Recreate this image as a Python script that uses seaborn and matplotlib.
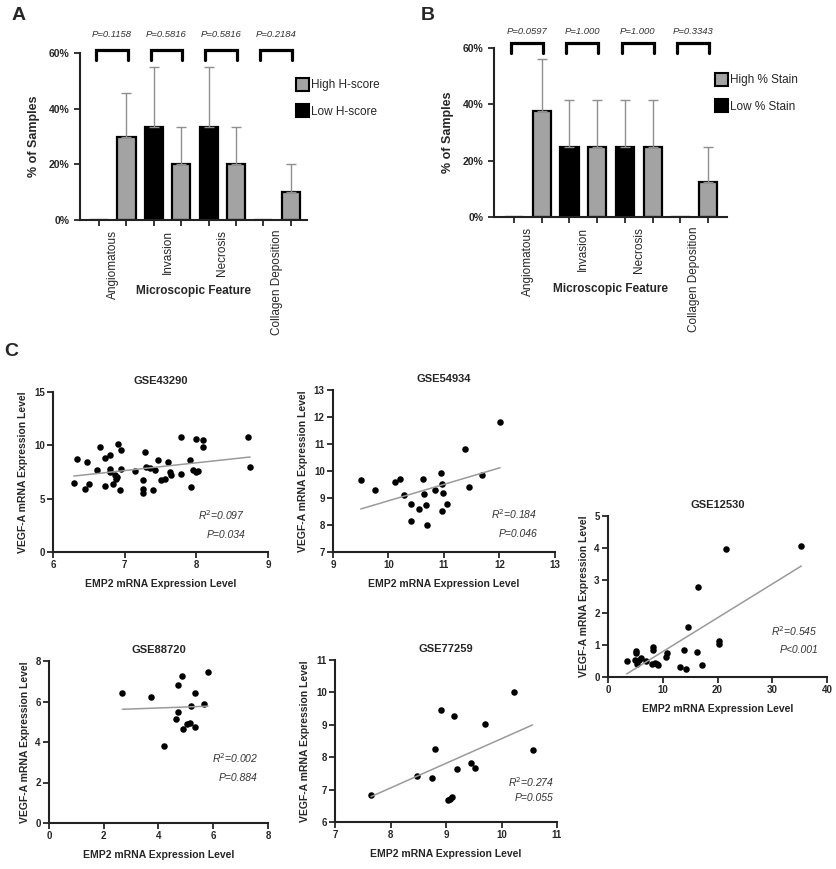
import numpy as np
import pandas as pd
import seaborn as sns
import matplotlib.pyplot as plt
from matplotlib.patches import Patch

sns.set_theme(style="ticks")
plt.rcParams["font.family"] = ["Liberation Sans", "DejaVu Sans"]

# ---- bar panels (A, B) ----
features = ["Angiomatous", "Invasion", "Necrosis", "Collagen Deposition"]
groups = ["Low", "High"]

a_high = [30.0, 20.0, 20.0, 10.0]
a_low = [0.0, 33.3, 33.3, 0.0]
a_high_err = [15.5, 13.5, 13.5, 10.0]
a_low_err = [0.0, 21.7, 21.7, 0.0]
a_pvals = ["P=0.1158", "P=0.5816", "P=0.5816", "P=0.2184"]
a_legend = ["High H-score", "Low H-score"]

b_high = [37.5, 25.0, 25.0, 12.5]
b_low = [0.0, 25.0, 25.0, 0.0]
b_high_err = [18.6, 16.7, 16.7, 12.5]
b_low_err = [0.0, 16.7, 16.7, 0.0]
b_pvals = ["P=0.0597", "P=1.000", "P=1.000", "P=0.3343"]
b_legend = ["High % Stain", "Low % Stain"]

# ---- scatter panels (C) ----
gse43290_x = [6.29, 6.34, 6.47, 6.45, 6.50, 6.66, 6.61, 6.73, 6.80, 6.73, 6.79, 6.80,
              6.84, 6.89, 6.90, 6.95, 6.95, 6.94, 6.88, 6.86, 7.14, 7.28, 7.26, 7.25,
              7.25, 7.30, 7.36, 7.40, 7.42, 7.47, 7.51, 7.56, 7.60, 7.63, 7.65, 7.78,
              7.79, 7.91, 7.93, 7.95, 8.00, 8.02, 8.00, 8.09, 8.10, 8.72, 8.75]
gse43290_y = [6.47, 8.69, 8.44, 5.94, 6.40, 9.84, 7.66, 8.81, 9.06, 6.16, 7.81, 7.50,
              6.40, 7.03, 10.16, 9.53, 7.81, 5.78, 6.88, 7.20, 7.59, 9.38, 6.72, 5.94,
              5.53, 7.97, 7.90, 5.78, 7.66, 8.66, 6.72, 6.88, 8.44, 7.50, 7.19, 10.78,
              7.34, 8.59, 6.09, 7.66, 7.50, 7.56, 10.63, 9.84, 10.47, 10.78, 7.97]

gse54934_x = [9.50, 9.75, 10.11, 10.20, 10.28, 10.40, 10.40, 10.55, 10.62, 10.64, 10.68,
              10.70, 10.84, 10.94, 10.97, 10.97, 10.99, 11.06, 11.38, 11.45, 11.69, 12.01]
gse54934_y = [9.66, 9.31, 9.60, 9.72, 9.10, 8.79, 8.14, 8.58, 9.70, 9.13, 8.73,
              8.01, 9.31, 9.91, 9.51, 8.52, 9.19, 8.77, 10.80, 9.41, 9.84, 11.83]

gse12530_x = [3.4, 5.2, 4.9, 5.7, 6.1, 5.3, 6.9, 8.1, 8.2, 8.2, 8.5, 9.2, 9.0, 5.1,
              10.6, 10.8, 13.1, 13.9, 14.2, 14.7, 16.2, 16.4, 17.1, 20.2, 20.3, 21.5, 35.3]
gse12530_y = [0.49, 0.80, 0.52, 0.52, 0.59, 0.41, 0.49, 0.41, 0.93, 0.83, 0.44, 0.36, 0.40, 0.75,
              0.62, 0.75, 0.31, 0.83, 0.26, 1.54, 0.78, 2.78, 0.36, 1.11, 1.01, 3.96, 4.07]

gse88720_x = [2.68, 3.74, 4.20, 4.65, 4.71, 4.71, 4.87, 4.90, 5.05, 5.14, 5.20, 5.32, 5.35, 5.66, 5.81]
gse88720_y = [6.44, 6.20, 3.81, 5.12, 5.46, 6.82, 7.26, 4.62, 4.87, 4.92, 5.78, 4.75, 6.40, 5.87, 7.47]

gse77259_x = [7.65, 8.47, 8.74, 8.80, 8.91, 9.03, 9.08, 9.11, 9.14, 9.20, 9.45, 9.53, 9.71, 10.22, 10.56]
gse77259_y = [6.82, 7.42, 7.37, 8.25, 9.45, 6.67, 6.72, 6.77, 9.27, 7.65, 7.82, 7.68, 9.01, 10.02, 8.22]

GRAY = "#a3a3a3"
W, H = 837, 869


def fig_rect(left, top, right, bottom):
    return [left / W, 1 - bottom / H, (right - left) / W, (bottom - top) / H]


fig = plt.figure(figsize=(8.37, 8.69), dpi=100)


def bar_panel(rect, high, low, high_err, low_err, pvals, legend_labels, xlim,
              br_top, br_bot, p_y):
    ax = fig.add_axes(rect)
    df = pd.DataFrame({
        "feature": features * 2,
        "group": ["Low"] * 4 + ["High"] * 4,
        "value": low + high,
    })
    sns.barplot(data=df, x="feature", y="value", hue="group", hue_order=groups,
                palette={"Low": "black", "High": GRAY}, width=1.0, gap=0.34,
                edgecolor="black", linewidth=1.6, errorbar=None, legend=False, ax=ax)
    # upward-only error bars, placed on the drawn bars
    err_map = {}
    for i, f in enumerate(features):
        err_map[(i, "Low")] = low_err[i]
        err_map[(i, "High")] = high_err[i]
    patches = sorted(ax.patches, key=lambda p: p.get_x())
    for k, p in enumerate(patches):
        e = err_map[(k // 2, groups[k % 2])]
        if e <= 0:
            continue
        cx = p.get_x() + p.get_width() / 2
        ax.errorbar([cx], [p.get_height()], yerr=[[0], [e]], fmt="none",
                    ecolor="#8f8f8f", elinewidth=1.0, capsize=3.5, capthick=1.0, zorder=1)
    # significance brackets
    for i, pv in enumerate(pvals):
        x0, x1 = i - 0.31, i + 0.27
        ax.plot([x0, x0, x1, x1], [br_bot, br_top, br_top, br_bot], color="black",
                lw=2.3, clip_on=False, solid_joinstyle="miter")
        ax.text(i - 0.02, p_y, pv, ha="center", va="center", fontsize=6.8, style="italic",
                color="#333333", clip_on=False)
    bar_pos = [i + d for i in range(4) for d in (-0.25, 0.25)]
    ax.set_xticks(bar_pos, labels=[""] * 8)
    ax.set_xticks(range(4), labels=features, minor=True)
    ax.tick_params(axis="x", which="minor", length=0, pad=7, labelsize=8.5, rotation=90)
    ax.tick_params(axis="x", which="major", length=4, width=1.3, direction="out")
    ax.tick_params(axis="y", length=4, width=1.3, labelsize=7.5)
    for lab in ax.get_xticklabels(minor=True):
        lab.set_va("top")
    ax.set_xlim(*xlim)
    ax.set_ylim(0, 60)
    ax.set_yticks([0, 20, 40, 60], labels=[f"{v}%" for v in (0, 20, 40, 60)])
    for lab in ax.get_yticklabels():
        lab.set_fontweight("bold")
    sns.despine(ax=ax)
    for s in ("left", "bottom"):
        ax.spines[s].set_linewidth(1.5)
        ax.spines[s].set_color("#222222")
    ax.set_ylabel("% of Samples", fontsize=9, fontweight="bold", labelpad=6)
    ax.set_xlabel("Microscopic Feature", fontsize=8.5, fontweight="bold")
    ax.xaxis.set_label_coords(0.5, -0.39)
    handles = [Patch(facecolor=GRAY, edgecolor="black", linewidth=1.5),
               Patch(facecolor="black", edgecolor="black", linewidth=1.5)]
    ax.legend(handles, legend_labels, loc="upper left", bbox_to_anchor=(0.93, 0.88),
              frameon=False, fontsize=8.5, handlelength=1.1, handleheight=1.3,
              handletextpad=0.15, labelspacing=1.1, borderaxespad=0)
    return ax


bar_panel(fig_rect(80, 53, 307, 220), a_high, a_low, a_high_err, a_low_err, a_pvals,
          a_legend, (-0.6, 3.55), 61.1, 57.5, 66.5)
bar_panel(fig_rect(494, 48, 727, 217), b_high, b_low, b_high_err, b_low_err, b_pvals,
          b_legend, (-0.61, 3.59), 61.8, 58.2, 65.8)


def scatter_panel(rect, x, y, title, xlim, xticks, ylim, yticks, r2, pv, txt_x, txt_y1, txt_y2):
    ax = fig.add_axes(rect)
    sns.regplot(x=x, y=y, ci=None, ax=ax,
                scatter_kws=dict(s=22, color="black", linewidths=0, alpha=1),
                line_kws=dict(color="#9a9a9a", lw=1.1))
    ax.set_xlim(*xlim)
    ax.set_ylim(*ylim)
    ax.set_xticks(xticks)
    ax.set_yticks(yticks)
    sns.despine(ax=ax)
    for s in ("left", "bottom"):
        ax.spines[s].set_linewidth(1.5)
        ax.spines[s].set_color("#222222")
    ax.tick_params(length=4, width=1.3, labelsize=7, pad=2)
    for lab in ax.get_xticklabels() + ax.get_yticklabels():
        lab.set_fontweight("bold")
    ax.set_title(title, fontsize=8, fontweight="bold", pad=6)
    ax.set_xlabel("EMP2 mRNA Expression Level", fontsize=7.5, fontweight="bold", labelpad=6)
    ax.set_ylabel("VEGF-A mRNA Expression Level", fontsize=7.5, fontweight="bold", labelpad=4)
    ax.text(txt_x, txt_y1, r"R$^2$=" + r2, transform=ax.transAxes, ha="right", va="center",
            fontsize=7.5, style="italic", color="#333333")
    ax.text(txt_x, txt_y2, "P" + pv, transform=ax.transAxes, ha="right", va="center",
            fontsize=7.5, style="italic", color="#333333")
    return ax


scatter_panel(fig_rect(53, 392, 268, 552), gse43290_x, gse43290_y, "GSE43290",
              (6, 9), [6, 7, 8, 9], (0, 15), [0, 5, 10, 15], "0.097", "=0.034",
              0.893, 0.23, 0.106)
scatter_panel(fig_rect(333, 390, 555, 552), gse54934_x, gse54934_y, "GSE54934",
              (9, 13), [9, 10, 11, 12, 13], (7, 13), [7, 8, 9, 10, 11, 12, 13], "0.184", "=0.046",
              0.919, 0.235, 0.111)
scatter_panel(fig_rect(608, 516, 827, 677), gse12530_x, gse12530_y, "GSE12530",
              (0, 40), [0, 10, 20, 30, 40], (0, 5), [0, 1, 2, 3, 4, 5], "0.545", "<0.001",
              0.959, 0.286, 0.168)
scatter_panel(fig_rect(49, 661, 268, 823), gse88720_x, gse88720_y, "GSE88720",
              (0, 8), [0, 2, 4, 6, 8], (0, 8), [0, 2, 4, 6, 8], "0.002", "=0.884",
              0.954, 0.40, 0.278)
scatter_panel(fig_rect(335, 660, 557, 822), gse77259_x, gse77259_y, "GSE77259",
              (7, 11), [7, 8, 9, 10, 11], (6, 11), [6, 7, 8, 9, 10, 11], "0.274", "=0.055",
              0.986, 0.247, 0.148)

# panel letters
fig.text(12 / W, 1 - 16 / H, "A", fontsize=14, fontweight="bold", va="center")
fig.text(421 / W, 1 - 16 / H, "B", fontsize=14, fontweight="bold", va="center")
fig.text(4 / W, 1 - 352 / H, "C", fontsize=14, fontweight="bold", va="center")

fig.savefig("out.png", dpi=100, facecolor="white")
